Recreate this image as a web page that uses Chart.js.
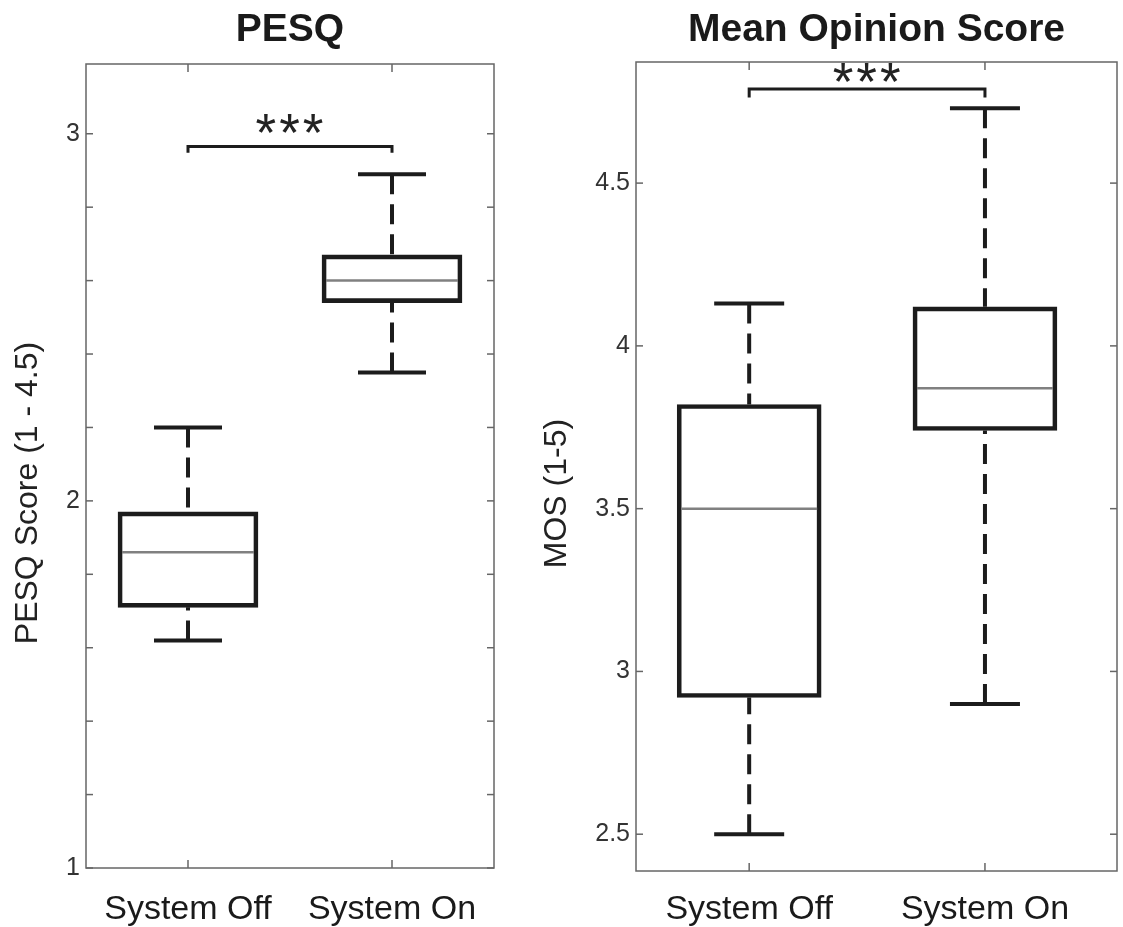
<!DOCTYPE html>
<html>
<head>
<meta charset="utf-8">
<title>PESQ and Mean Opinion Score</title>
<script src="https://cdn.jsdelivr.net/npm/chart.js@4"></script>
<style>
    html, body { margin: 0; padding: 0; background: #ffffff; }
    .panel { position: absolute; top: 0; height: 927px; }
    #pesqPanel { left: 0; width: 520px; }
    #mosPanel { left: 520px; width: 603px; }
</style>
</head>
<body>
<div class="panel" id="pesqPanel"><canvas id="pesqChart" width="520" height="927"></canvas></div>
<div class="panel" id="mosPanel"><canvas id="mosChart" width="603" height="927"></canvas></div>

<script>
// Datos
const categories = ['System Off', 'System On'];

const pesqMin    = [1.62, 2.35];
const pesqQ1     = [1.71, 2.54];
const pesqMedian = [1.86, 2.60];
const pesqQ3     = [1.97, 2.67];
const pesqMax    = [2.20, 2.89];
const pesqTicks  = [1, 1.2, 1.4, 1.6, 1.8, 2, 2.2, 2.4, 2.6, 2.8, 3];

const mosMin    = [2.50, 2.90];
const mosQ1     = [2.92, 3.74];
const mosMedian = [3.50, 3.87];
const mosQ3     = [3.82, 4.12];
const mosMax    = [4.13, 4.73];
const mosTicks  = [2.5, 3, 3.5, 4, 4.5];

const FONT = '"Liberation Sans", Arial, Helvetica, sans-serif';
const INK = '#1c1c1c';
const FRAME = '#666666';

function strokeLine(ctx, x1, y1, x2, y2) {
    ctx.beginPath();
    ctx.moveTo(x1, y1);
    ctx.lineTo(x2, y2);
    ctx.stroke();
}

// Bigotes, medianas, marco, ticks interiores, títulos y corchete de significancia
const boxExtras = {
    id: 'boxExtras',
    afterDatasetsDraw(chart, args, opts) {
        const ctx = chart.ctx;
        const xs = chart.scales.x;
        const ys = chart.scales.y;
        const area = chart.chartArea;
        const bars = chart.getDatasetMeta(0).data;
        const s = opts.stats;

        ctx.save();
        ctx.lineCap = 'butt';

        s.median.forEach((m, i) => {
            const x = xs.getPixelForValue(i + 1);
            ctx.strokeStyle = INK;
            ctx.lineWidth = 4;
            ctx.setLineDash([20, 10]);
            strokeLine(ctx, x, ys.getPixelForValue(s.max[i]), x, ys.getPixelForValue(s.q3[i]));
            strokeLine(ctx, x, ys.getPixelForValue(s.min[i]), x, ys.getPixelForValue(s.q1[i]));
            ctx.setLineDash([]);
            [s.min[i], s.max[i]].forEach(v => {
                const y = ys.getPixelForValue(v);
                strokeLine(ctx, x - opts.capHalf, y, x + opts.capHalf, y);
            });
            // mediana
            const bar = bars[i];
            const half = bar.width / 2 - 4;
            const ym = ys.getPixelForValue(m);
            ctx.strokeStyle = '#808080';
            ctx.lineWidth = 2.5;
            strokeLine(ctx, bar.x - half, ym, bar.x + half, ym);
        });

        // marco del área
        ctx.strokeStyle = FRAME;
        ctx.lineWidth = 1.5;
        ctx.strokeRect(area.left, area.top, area.right - area.left, area.bottom - area.top);
        ys.ticks.forEach(t => {
            const y = ys.getPixelForValue(t.value);
            strokeLine(ctx, area.left, y, area.left + 7, y);
            strokeLine(ctx, area.right - 7, y, area.right, y);
        });
        xs.ticks.forEach(t => {
            const x = xs.getPixelForValue(t.value);
            strokeLine(ctx, x, area.bottom, x, area.bottom - 8);
            strokeLine(ctx, x, area.top, x, area.top + 8);
        });

        // corchete y asteriscos
        const b = opts.bracket;
        const x1 = xs.getPixelForValue(1);
        const x2 = xs.getPixelForValue(2);
        const yb = ys.getPixelForValue(b.level);
        const yl = ys.getPixelForValue(b.legEnd);
        ctx.strokeStyle = INK;
        ctx.lineWidth = 3;
        ctx.beginPath();
        ctx.moveTo(x1, yl);
        ctx.lineTo(x1, yb);
        ctx.lineTo(x2, yb);
        ctx.lineTo(x2, yl);
        ctx.stroke();
        ctx.fillStyle = '#222222';
        ctx.font = '53px ' + FONT;
        ctx.letterSpacing = '3px';
        ctx.textAlign = 'center';
        ctx.textBaseline = 'alphabetic';
        ctx.fillText(b.label, (x1 + x2) / 2 + 1, yb - b.raise + 27);
        ctx.letterSpacing = '0px';

        // título del panel
        ctx.fillStyle = '#1a1a1a';
        ctx.font = 'bold 39px ' + FONT;
        ctx.fillText(opts.title, (area.left + area.right) / 2, 41);

        // título del eje y
        ctx.translate(area.left - opts.yTitleGap, (area.top + area.bottom) / 2 + 27);
        ctx.rotate(-Math.PI / 2);
        ctx.font = '32px ' + FONT;
        ctx.textBaseline = 'middle';
        ctx.fillStyle = '#222222';
        ctx.fillText(opts.yTitle, 0, 0);

        ctx.restore();
    }
};

function makeBoxChart(canvasId, cfg) {
    const boxes = cfg.q1.map((q, i) => ({ x: i + 1, y: [q, cfg.q3[i]] }));
    return new Chart(document.getElementById(canvasId), {
        type: 'bar',
        data: {
            datasets: [{
                data: boxes,
                backgroundColor: 'rgba(255, 255, 255, 0)',
                borderColor: INK,
                borderWidth: 4,
                borderSkipped: false,
                barThickness: cfg.boxWidth
            }]
        },
        options: {
            responsive: false,
            animation: false,
            events: [],
            layout: { padding: { top: cfg.padTop, right: cfg.padRight, left: 0, bottom: 0 } },
            plugins: {
                legend: { display: false },
                tooltip: { enabled: false },
                boxExtras: {
                    stats: { min: cfg.min, q1: cfg.q1, median: cfg.median, q3: cfg.q3, max: cfg.max },
                    capHalf: cfg.capHalf,
                    title: cfg.title,
                    yTitle: cfg.yTitle,
                    yTitleGap: cfg.yTitleGap,
                    bracket: cfg.bracket
                }
            },
            scales: {
                x: {
                    type: 'linear',
                    min: cfg.xMin,
                    max: cfg.xMax,
                    offset: false,
                    grid: { display: false, drawTicks: false },
                    border: { display: false },
                    afterBuildTicks: s => { s.ticks = categories.map((c, i) => ({ value: i + 1 })); },
                    afterFit: s => { s.height = cfg.xHeight; },
                    ticks: {
                        autoSkip: false,
                        maxRotation: 0,
                        padding: cfg.xPad,
                        color: '#1a1a1a',
                        font: { family: FONT, size: 34 },
                        callback: v => categories[v - 1]
                    }
                },
                y: {
                    type: 'linear',
                    min: cfg.yMin,
                    max: cfg.yMax,
                    grid: { display: false, drawTicks: false },
                    border: { display: false },
                    afterBuildTicks: s => { s.ticks = cfg.ticks.map(v => ({ value: v })); },
                    afterFit: s => { s.width = cfg.yWidth; },
                    ticks: {
                        autoSkip: false,
                        padding: 6,
                        color: '#333333',
                        font: { family: FONT, size: 25 },
                        callback: cfg.tickLabel
                    }
                }
            }
        },
        plugins: [boxExtras]
    });
}

makeBoxChart('pesqChart', {
    min: pesqMin, q1: pesqQ1, median: pesqMedian, q3: pesqQ3, max: pesqMax,
    ticks: pesqTicks,
    tickLabel: v => Number.isInteger(v) ? String(v) : '',
    xMin: 0.5, xMax: 2.5,
    yMin: 1, yMax: 3.19,
    boxWidth: 140, capHalf: 34,
    padTop: 64, padRight: 26, yWidth: 86, xHeight: 59, xPad: 21,
    title: 'PESQ',
    yTitle: 'PESQ Score (1 - 4.5)',
    yTitleGap: 58,
    bracket: { level: 2.965, legEnd: 2.948, raise: 23, label: '***' }
});

makeBoxChart('mosChart', {
    min: mosMin, q1: mosQ1, median: mosMedian, q3: mosQ3, max: mosMax,
    ticks: mosTicks,
    tickLabel: v => String(v),
    xMin: 0.52, xMax: 2.56,
    yMin: 2.387, yMax: 4.872,
    boxWidth: 144, capHalf: 35,
    padTop: 62, padRight: 6, yWidth: 116, xHeight: 56, xPad: 18,
    title: 'Mean Opinion Score',
    yTitle: 'MOS (1-5)',
    yTitleGap: 79,
    bracket: { level: 4.789, legEnd: 4.763, raise: 16, label: '***' }
});
</script>
</body>
</html>
